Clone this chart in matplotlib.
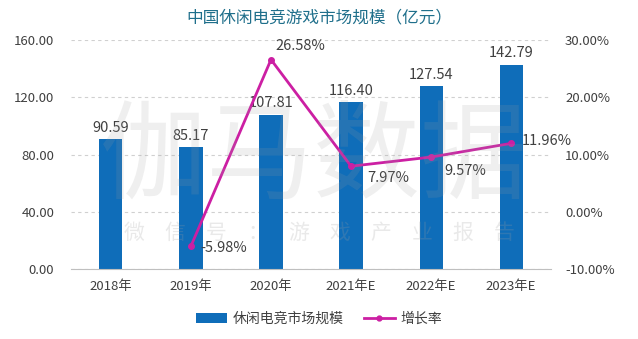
import matplotlib
matplotlib.use("Agg")
import matplotlib.pyplot as plt
from matplotlib.ticker import FuncFormatter
from matplotlib.lines import Line2D
from matplotlib.patches import Patch

plt.rcParams['font.family'] = ['Noto Sans CJK SC', 'DejaVu Sans']

categories = ["2018年", "2019年", "2020年", "2021年E", "2022年E", "2023年E"]
market = [90.59, 85.17, 107.81, 116.40, 127.54, 142.79]
growth_idx = [1, 2, 3, 4, 5]
growth = [-5.98, 26.58, 7.97, 9.57, 11.96]

bar_color = "#0F6DB9"
line_color = "#CC1FA3"
text_color = "#404040"

fig = plt.figure(figsize=(6.38, 3.39), dpi=100)
ax = fig.add_axes([0.111, 0.206, 0.753, 0.676])
x = list(range(len(categories)))

ax.bar(x, market, width=0.29, color=bar_color, zorder=2)
ax.set_xlim(-0.5, len(categories) - 0.5)
ax.set_ylim(0, 160)
ax.set_yticks([0, 40, 80, 120, 160])
ax.yaxis.set_major_formatter(FuncFormatter(lambda v, p: f"{v:.2f}"))
ax.set_xticks(x)
ax.set_xticklabels(categories)
ax.grid(axis='y', linestyle=(0, (3, 3)), color="#D0D0D0", linewidth=0.8, zorder=0)
for s in ['top', 'right', 'left']:
    ax.spines[s].set_visible(False)
ax.spines['bottom'].set_color("#BFBFBF")
ax.tick_params(axis='both', length=0, labelsize=9.5, colors=text_color)
ax.tick_params(axis='y', pad=12)
ax.tick_params(axis='x', pad=8)

for xi, v in zip(x, market):
    ax.text(xi, v + 3, f"{v:.2f}", ha='center', va='bottom', fontsize=10.5, color=text_color, zorder=5)

ax2 = ax.twinx()
ax2.set_ylim(-10, 30)
ax2.set_yticks([-10, 0, 10, 20, 30])
ax2.yaxis.set_major_formatter(FuncFormatter(lambda v, p: f"{v:.2f}%"))
for s in ['top', 'right', 'left', 'bottom']:
    ax2.spines[s].set_visible(False)
ax2.tick_params(axis='y', length=0, labelsize=9.5, colors=text_color, pad=10)
ax2.plot(growth_idx, growth, color=line_color, linewidth=2, marker='o', markersize=4, zorder=4)

offsets = [(0.12, -0.3, 'left', 'center'),
           (0.05, 1.2, 'left', 'bottom'),
           (0.2, -0.9, 'left', 'top'),
           (0.17, -1.2, 'left', 'top'),
           (0.13, 0.4, 'left', 'center')]
for xi, g, (dx, dy, ha, va) in zip(growth_idx, growth, offsets):
    ax2.text(xi + dx, g + dy, f"{g:.2f}%", ha=ha, va=va, fontsize=10.5, color=text_color, zorder=5)

# watermark
fig.text(0.492, 0.53, "伽马数据", ha='center', va='center', fontsize=77, color="#9E9E9E",
         alpha=0.16, zorder=0)
wm_chars = "微信号：游戏产业报告"
for i, ch in enumerate(wm_chars):
    fig.text(0.21 + i * 0.0645, 0.313, ch, ha='center', va='center', fontsize=15,
             color="#9E9E9E", alpha=0.22, zorder=0)

fig.text(0.5, 0.945, "中国休闲电竞游戏市场规模（亿元）", ha='center', va='center',
         fontsize=12, color="#1F6F8B")

handles = [Patch(facecolor=bar_color, label="休闲电竞市场规模"),
           Line2D([0], [0], color=line_color, linewidth=2, marker='o', markersize=3.5, label="增长率")]
fig.legend(handles=handles, loc='center', bbox_to_anchor=(0.5, 0.06), ncol=2, frameon=False,
           fontsize=10, handlelength=2.2, handleheight=0.7, columnspacing=1.5, handletextpad=0.4,
           labelcolor=text_color)

fig.savefig("out.png", dpi=100, facecolor='white')
